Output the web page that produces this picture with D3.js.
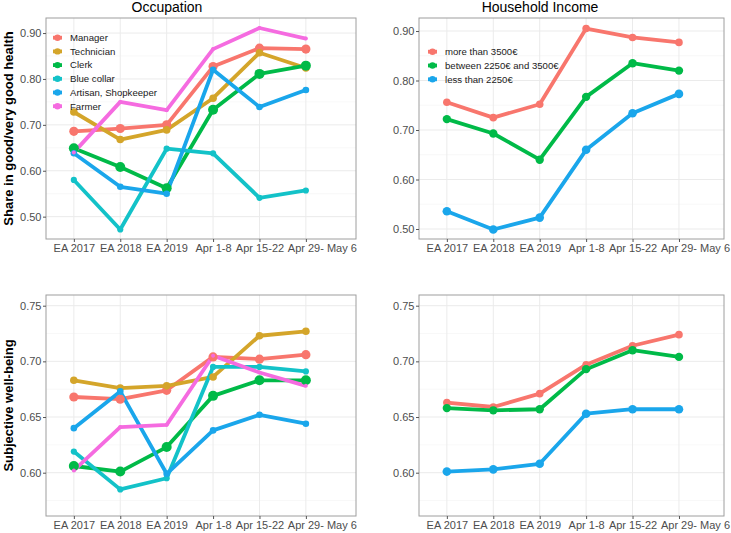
<!DOCTYPE html>
<html>
<head>
<meta charset="utf-8">
<script src="https://cdn.jsdelivr.net/npm/d3@7"></script>
<style>
  html, body { margin: 0; padding: 0; background: #ffffff; }
  svg { display: block; font-family: "Liberation Sans", Arial, Helvetica, sans-serif; }
</style>
</head>
<body>
<svg id="chart" width="731" height="533"></svg>
<script>
// ---------------- DATA ----------------
const periods = ["EA 2017", "EA 2018", "EA 2019", "Apr 1-8", "Apr 15-22", "Apr 29- May 6"];
const occupations = ["Manager", "Technician", "Clerk", "Blue collar", "Artisan, Shopkeeper", "Farmer"];
const incomeGroups = ["more than 3500€", "between 2250€ and 3500€", "less than 2250€"];

const healthTicks = [0.5, 0.6, 0.7, 0.8, 0.9];
const wellbeingTicks = [0.60, 0.65, 0.70, 0.75];

// Share in good/very good health, by occupation
const healthManager    = [0.686, 0.692, 0.700, 0.827, 0.867, 0.865];
const healthTechnician = [0.728, 0.668, 0.689, 0.758, 0.857, 0.824];
const healthClerk      = [0.649, 0.608, 0.562, 0.733, 0.811, 0.829];
const healthBlueCollar = [0.580, 0.472, 0.648, 0.638, 0.541, 0.557];
const healthArtisan    = [0.638, 0.565, 0.550, 0.820, 0.739, 0.776];
const healthFarmer     = [0.640, 0.750, 0.732, 0.865, 0.911, 0.888];

// Subjective well-being, by occupation
const wellManager    = [0.668, 0.666, 0.674, 0.704, 0.702, 0.706];
const wellTechnician = [0.683, 0.676, 0.678, 0.686, 0.723, 0.727];
const wellClerk      = [0.606, 0.601, 0.623, 0.669, 0.683, 0.683];
const wellBlueCollar = [0.619, 0.585, 0.595, 0.695, 0.695, 0.691];
const wellArtisan    = [0.640, 0.673, 0.599, 0.638, 0.652, 0.644];
const wellFarmer     = [0.602, 0.641, 0.643, 0.705, 0.690, 0.678];

// Share in good/very good health, by household income
const healthHigh = [0.756, 0.725, 0.752, 0.905, 0.887, 0.877];
const healthMid  = [0.722, 0.693, 0.640, 0.767, 0.835, 0.820];
const healthLow  = [0.536, 0.499, 0.523, 0.660, 0.734, 0.773];

// Subjective well-being, by household income
const wellHigh = [0.663, 0.659, 0.671, 0.697, 0.714, 0.724];
const wellMid  = [0.658, 0.656, 0.657, 0.693, 0.710, 0.704];
const wellLow  = [0.601, 0.603, 0.608, 0.653, 0.657, 0.657];

// ---------------- STYLE ----------------
const occColors = ["#F8766D", "#D4A52A", "#00BA48", "#13C2C8", "#1AA6EB", "#F56BE0"];
const occRadius = [4.6, 3.8, 5.0, 3.1, 3.3, 2.0];
const incColors = ["#F8766D", "#00BA48", "#1AA6EB"];
const incRadius = [3.8, 4.2, 4.3];

const svg = d3.select("#chart");
const tickColor = "#4D4D4D";

function panel(opts) {
  const { left, right, top, bottom, xDomain, yDomain, yTicks, series, colors, radius,
          title, titleX, yTitle, legend } = opts;
  const x = d3.scaleLinear().domain(xDomain).range([left, right]);
  const y = d3.scaleLinear().domain(yDomain).range([bottom, top]);
  const g = svg.append("g");

  g.append("rect").attr("x", left).attr("y", top)
    .attr("width", right - left).attr("height", bottom - top).attr("fill", "#fff");

  // minor grid lines
  const minor = [];
  for (let i = 0; i < yTicks.length - 1; i++) minor.push((yTicks[i] + yTicks[i + 1]) / 2);
  const step = yTicks[1] - yTicks[0];
  minor.push(yTicks[0] - step / 2, yTicks[yTicks.length - 1] + step / 2);
  g.selectAll(".minor").data(minor.filter(v => v > yDomain[0] && v < yDomain[1]))
    .join("line")
    .attr("x1", left).attr("x2", right)
    .attr("y1", d => y(d)).attr("y2", d => y(d))
    .attr("stroke", "#F4F4F4").attr("stroke-width", 0.6);
  // major grid lines
  g.selectAll(".majory").data(yTicks).join("line")
    .attr("x1", left).attr("x2", right)
    .attr("y1", d => y(d)).attr("y2", d => y(d))
    .attr("stroke", "#EBEBEB").attr("stroke-width", 1);
  g.selectAll(".majorx").data(d3.range(periods.length)).join("line")
    .attr("x1", d => x(d)).attr("x2", d => x(d))
    .attr("y1", top).attr("y2", bottom)
    .attr("stroke", "#EBEBEB").attr("stroke-width", 1);

  // lines
  const line = d3.line().x((d, i) => x(i)).y(d => y(d));
  series.forEach((s, k) => {
    g.append("path").datum(s).attr("d", line)
      .attr("fill", "none").attr("stroke", colors[k])
      .attr("stroke-width", 3.8).attr("stroke-linejoin", "round").attr("stroke-linecap", "butt");
  });
  // points
  series.forEach((s, k) => {
    g.selectAll(null).data(s).join("circle")
      .attr("cx", (d, i) => x(i)).attr("cy", d => y(d))
      .attr("r", radius[k]).attr("fill", colors[k]);
  });

  // panel border
  g.append("rect").attr("x", left).attr("y", top)
    .attr("width", right - left).attr("height", bottom - top)
    .attr("fill", "none").attr("stroke", "#9E9E9E").attr("stroke-width", 1);

  // y axis
  const ya = g.append("g").attr("transform", `translate(${left},0)`)
    .call(d3.axisLeft(y).tickValues(yTicks).tickFormat(d3.format(".2f")).tickSize(3).tickPadding(1.5));
  ya.select(".domain").remove();
  ya.selectAll("line").attr("stroke", "#555");
  ya.selectAll("text").attr("fill", tickColor).attr("font-size", 11).style("font-family", "Liberation Sans, Arial, sans-serif");

  // x axis
  const xa = g.append("g").attr("transform", `translate(0,${bottom})`)
    .call(d3.axisBottom(x).tickValues(d3.range(periods.length)).tickFormat(i => periods[i]).tickSize(3).tickPadding(2));
  xa.select(".domain").remove();
  xa.selectAll("line").attr("stroke", "#555");
  xa.selectAll("text").attr("fill", tickColor).attr("font-size", 11).style("font-family", "Liberation Sans, Arial, sans-serif");
  xa.selectAll("text").filter((d, i) => i === periods.length - 1).attr("dx", 16);

  if (title) {
    svg.append("text").attr("x", titleX).attr("y", 12)
      .attr("text-anchor", "middle").attr("font-size", 14).attr("fill", "#000").text(title);
  }
  if (yTitle) {
    svg.append("text")
      .attr("transform", `translate(13,${(top + bottom) / 2}) rotate(-90)`)
      .attr("text-anchor", "middle").attr("font-size", 13).attr("font-weight", "bold")
      .attr("fill", "#000").text(yTitle);
  }
  if (legend) {
    const lg = svg.append("g");
    legend.labels.forEach((lab, k) => {
      const yy = legend.y0 + k * legend.dy;
      lg.append("line").attr("x1", legend.x0).attr("x2", legend.x0 + 9)
        .attr("y1", yy).attr("y2", yy).attr("stroke", colors[k]).attr("stroke-width", 3.8);
      lg.append("circle").attr("cx", legend.x0 + 4.5).attr("cy", yy).attr("r", 3.2).attr("fill", colors[k]);
      lg.append("text").attr("x", legend.x0 + 17).attr("y", yy).attr("dy", "0.35em")
        .attr("font-size", 9.6).attr("fill", "#1a1a1a").text(lab);
    });
  }
}

// top-left: health by occupation
panel({
  left: 46, right: 356, top: 18, bottom: 239,
  xDomain: [-0.6, 6.08], yDomain: [0.4513, 0.9328], yTicks: healthTicks,
  series: [healthManager, healthTechnician, healthClerk, healthBlueCollar, healthArtisan, healthFarmer],
  colors: occColors, radius: occRadius,
  title: "Occupation", titleX: 167,
  yTitle: "Share in good/very good health",
  legend: { labels: occupations, x0: 53, y0: 37.7, dy: 13.7 }
});

// top-right: health by income
panel({
  left: 419, right: 724, top: 18, bottom: 239,
  xDomain: [-0.6, 5.97], yDomain: [0.4798, 0.9263], yTicks: healthTicks,
  series: [healthHigh, healthMid, healthLow],
  colors: incColors, radius: incRadius,
  title: "Household Income", titleX: 540,
  legend: { labels: incomeGroups, x0: 428, y0: 51.7, dy: 13.8 }
});

// bottom-left: well-being by occupation
panel({
  left: 46, right: 356, top: 295, bottom: 516,
  xDomain: [-0.6, 6.08], yDomain: [0.5611, 0.7596], yTicks: wellbeingTicks,
  series: [wellManager, wellTechnician, wellClerk, wellBlueCollar, wellArtisan, wellFarmer],
  colors: occColors, radius: occRadius,
  yTitle: "Subjective well-being"
});

// bottom-right: well-being by income
panel({
  left: 419, right: 724, top: 295, bottom: 516,
  xDomain: [-0.6, 5.97], yDomain: [0.5611, 0.7596], yTicks: wellbeingTicks,
  series: [wellHigh, wellMid, wellLow],
  colors: incColors, radius: incRadius
});
</script>
</body>
</html>
